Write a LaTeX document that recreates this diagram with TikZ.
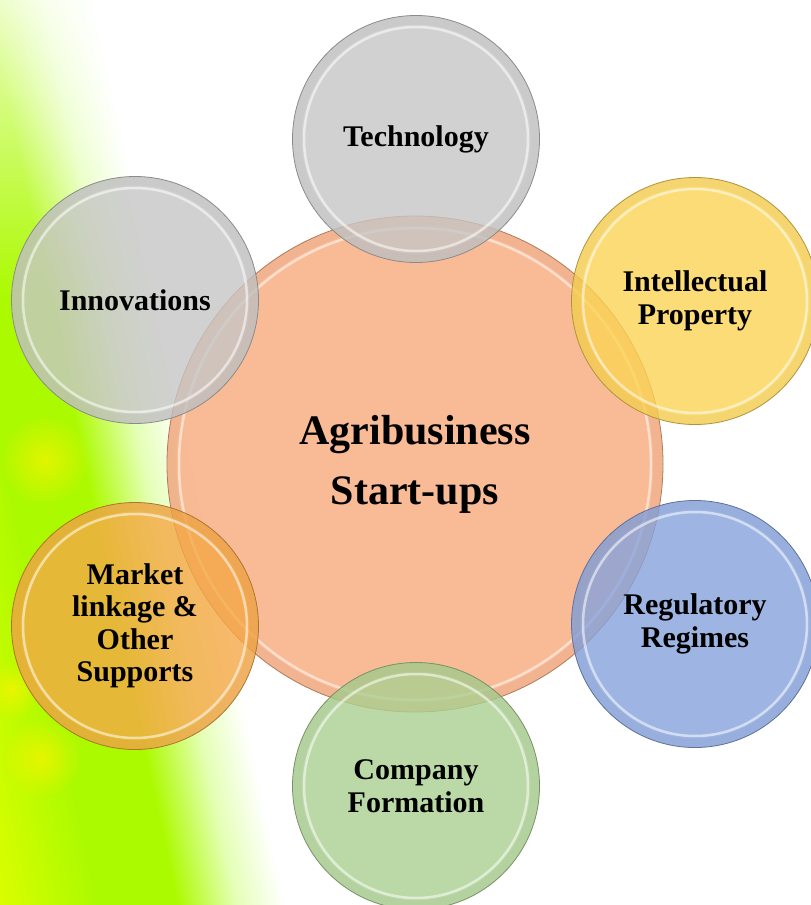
\documentclass[tikz,border=0pt]{standalone}
\usepackage{fontspec}
\setmainfont{Liberation Serif}
\usetikzlibrary{fadings}

\definecolor{bgYel}{RGB}{236,255,0}
\definecolor{bgGrn}{RGB}{172,250,0}
\definecolor{bgPale}{RGB}{228,255,180}
\definecolor{cSalmon}{RGB}{248,174,132}
\definecolor{cGray}{RGB}{198,198,198}
\definecolor{cYellow}{RGB}{251,212,84}
\definecolor{cBlue}{RGB}{134,163,221}
\definecolor{cGreen}{RGB}{170,208,144}
\definecolor{cOrange}{RGB}{245,168,70}

\pgfdeclarehorizontalshading{bgband}{100bp}{color(0bp)=(bgYel); color(38bp)=(bgYel); color(52bp)=(bgGrn); color(60bp)=(bgGrn); color(66bp)=(bgPale); color(71bp)=(white); color(100bp)=(white)}

\tikzfading[name=topfade, top color=transparent!25, bottom color=transparent!100]
\tikzfading[name=spotfade, inner color=transparent!35, outer color=transparent!100]

\tikzset{
  bubble/.style={circle, draw=#1!70!black, line width=0.8pt, fill=#1,
    fill opacity=0.8, text opacity=1, inner sep=0pt, align=center,
    minimum size=247pt, text=black,
    font=\bfseries\fontsize{30}{32.5}\selectfont},
  bigbubble/.style={bubble=#1, minimum size=496pt, fill opacity=0.85,
    font=\bfseries\fontsize{42}{60}\selectfont},
  rim/.style={draw=#1!75!black, line width=9pt, opacity=0.10},
  shine/.style={draw=white, line width=2.5pt, opacity=0.55}
}

\begin{document}
\begin{tikzpicture}[x=1pt,y=1pt]
\useasboundingbox (0,0) rectangle (811,-905);
\fill[white] (0,0) rectangle (811,-905);

% background band
\begin{scope}[transform canvas={rotate around={12:(40,0)}}]
  \shade[shading=bgband] (-350,-1150) rectangle (130,120);
\end{scope}
\fill[white, path fading=topfade] (0,0) rectangle (300,-300);
\fill[yellow, path fading=spotfade] (45,-460) circle (45);
\fill[yellow, path fading=spotfade] (42,-758) circle (40);
\fill[yellow, path fading=spotfade] (12,-690) circle (28);

% central circle
\node[bigbubble=cSalmon] (hub) at (415,-464) {Agribusiness\\Start-ups};
\draw[rim=cSalmon] (hub.center) circle[radius=243];
\draw[shine] (hub.center) circle[radius=236];

% outer circles
\node[bubble=cGray] (tech) at (416,-139) {Technology};
\draw[rim=cGray] (tech.center) circle[radius=119];
\draw[shine] (tech.center) circle[radius=112];

\node[bubble=cGray] (innov) at (135,-300) {Innovations};
\draw[rim=cGray] (innov.center) circle[radius=119];
\draw[shine] (innov.center) circle[radius=112];

\node[bubble=cYellow] (ip) at (695,-301) {Intellectual\\Property};
\draw[rim=cYellow] (ip.center) circle[radius=119];
\draw[shine] (ip.center) circle[radius=112];

\node[bubble=cBlue] (reg) at (695,-624) {Regulatory\\Regimes};
\draw[rim=cBlue] (reg.center) circle[radius=119];
\draw[shine] (reg.center) circle[radius=112];

\node[bubble=cOrange] (market) at (135,-626) {Market\\linkage \&\\Other\\Supports};
\draw[rim=cOrange] (market.center) circle[radius=119];
\draw[shine] (market.center) circle[radius=112];

\node[bubble=cGreen] (comp) at (416,-786) {Company\\Formation};
\draw[rim=cGreen] (comp.center) circle[radius=119];
\draw[shine] (comp.center) circle[radius=112];
\end{tikzpicture}
\end{document}
